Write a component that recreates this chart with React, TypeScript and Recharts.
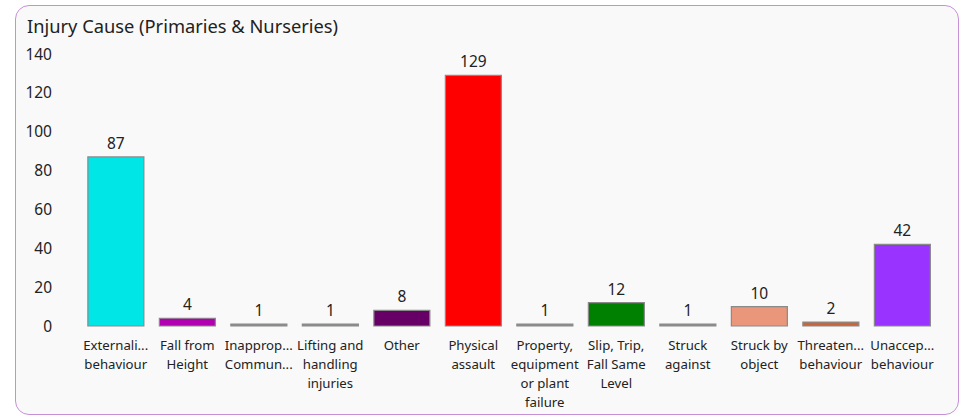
import React from "react";
import { BarChart, Bar, XAxis, YAxis, Cell, LabelList } from "recharts";

const categories = [
  "Externalising behaviour",
  "Fall from Height",
  "Inappropriate Communication",
  "Lifting and handling injuries",
  "Other",
  "Physical assault",
  "Property, equipment or plant failure",
  "Slip, Trip, Fall Same Level",
  "Struck against",
  "Struck by object",
  "Threatening behaviour",
  "Unacceptable behaviour",
];

const tickLabels: string[][] = [
  ["Externali...", "behaviour"],
  ["Fall from", "Height"],
  ["Inapprop...", "Commun..."],
  ["Lifting and", "handling", "injuries"],
  ["Other"],
  ["Physical", "assault"],
  ["Property,", "equipment", "or plant", "failure"],
  ["Slip, Trip,", "Fall Same", "Level"],
  ["Struck", "against"],
  ["Struck by", "object"],
  ["Threaten...", "behaviour"],
  ["Unaccep...", "behaviour"],
];

const counts = [87, 4, 1, 1, 8, 129, 1, 12, 1, 10, 2, 42];

const colors = [
  "#00E6E6",
  "#B000B0",
  "#8C8C8C",
  "#8C8C8C",
  "#660066",
  "#FF0000",
  "#8C8C8C",
  "#008000",
  "#8C8C8C",
  "#E9967A",
  "#C8663A",
  "#9933FF",
];

const yTicks = [0, 20, 40, 60, 80, 100, 120, 140];

const data = categories.map((c, i) => ({
  name: c,
  value: counts[i],
  idx: i,
}));

const FONT = "'Noto Sans', 'Open Sans', sans-serif";

const XTick = (props: any) => {
  const { x, payload } = props;
  const lines = tickLabels[payload.index] || [payload.value];
  return (
    <g>
      <text
        x={x}
        y={0}
        textAnchor="middle"
        fontFamily={FONT}
        fontSize={13.2}
        fill="#222"
      >
        {lines.map((l, i) => (
          <tspan key={i} x={x} y={350 + i * 18.9}>
            {l}
          </tspan>
        ))}
      </text>
    </g>
  );
};

export default function App() {
  return (
    <div
      style={{
        position: "absolute",
        left: 15,
        top: 5,
        width: 944,
        height: 410,
        background: "#F9F9F9",
        border: "1.5px solid #C690D6",
        borderRadius: 14,
        boxSizing: "border-box",
        fontFamily: FONT,
      }}
    >
      <div
        style={{
          position: "absolute",
          left: 11,
          top: 7,
          fontSize: 18.3,
          color: "#222",
          whiteSpace: "nowrap",
        }}
      >
        Injury Cause (Primaries &amp; Nurseries)
      </div>
      <div style={{ position: "absolute", left: -16.5, top: -6.5 }}>
        <BarChart
          width={960}
          height={416}
          data={data}
          margin={{ top: 54, right: 22, bottom: 10, left: 0 }}
          barCategoryGap="11%"
        >
          <XAxis
            dataKey="name"
            axisLine={false}
            tickLine={false}
            interval={0}
            height={80}
            tick={<XTick />}
          />
          <YAxis
            domain={[0, 140]}
            ticks={yTicks}
            width={80}
            axisLine={false}
            tickLine={false}
            tickMargin={22}
            tick={{ fontFamily: FONT, fontSize: 15.5, fill: "#222" }}
          />
          <Bar
            dataKey="value"
            isAnimationActive={false}
            stroke="#8A8A8A"
            strokeWidth={1.2}
          >
            {data.map((d, i) => (
              <Cell key={i} fill={colors[i]} />
            ))}
            <LabelList
              dataKey="value"
              position="top"
              offset={8}
              style={{ fontFamily: FONT, fontSize: 15.5, fill: "#222" }}
            />
          </Bar>
        </BarChart>
      </div>
    </div>
  );
}
